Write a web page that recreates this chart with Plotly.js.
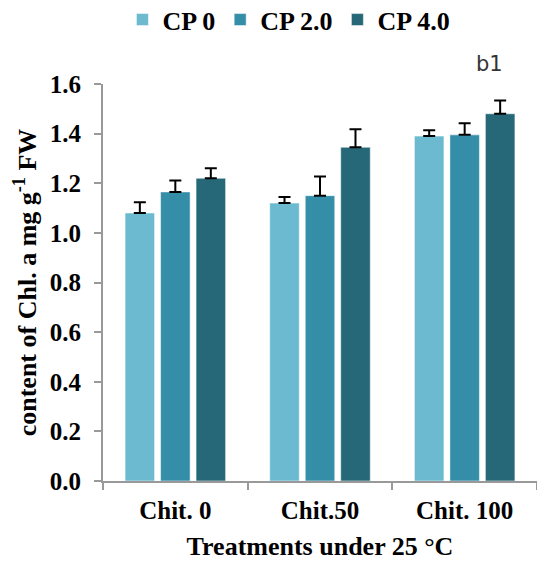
<!DOCTYPE html>
<html>
<head>
<meta charset="utf-8">
<script src="https://cdn.plot.ly/plotly-3.0.1.min.js"></script>
<style>html,body{margin:0;padding:0;background:#fff;}#chart{width:537px;height:562px;}</style>
</head>
<body>
<div id="chart"></div>
<script>
const categories = ["Chit. 0", "Chit.50", "Chit. 100"];
const seriesNames = ["CP 0", "CP 2.0", "CP 4.0"];
const cp0 = [1.08, 1.12, 1.39];
const cp2 = [1.165, 1.15, 1.395];
const cp4 = [1.22, 1.345, 1.48];
const err0 = [0.043, 0.025, 0.024];
const err2 = [0.046, 0.077, 0.047];
const err4 = [0.04, 0.073, 0.054];
const yTickVals = [0, 0.2, 0.4, 0.6, 0.8, 1.0, 1.2, 1.4, 1.6];
const yTickText = ["0.0", "0.2", "0.4", "0.6", "0.8", "1.0", "1.2", "1.4", "1.6"];
const colors = ["#6bbad0", "#358ea8", "#266878"];

const serif = "Liberation Serif, Times New Roman, serif";
const values = [cp0, cp2, cp4];
const errs = [err0, err2, err4];

const traces = seriesNames.map((name, i) => ({
  type: "bar",
  name: name,
  x: categories,
  y: values[i],
  marker: {color: colors[i], line: {color: "rgba(255,255,255,0.5)", width: 1}},
  error_y: {type: "data", symmetric: false, array: errs[i], arrayminus: errs[i].map(() => 0),
            color: "#000", thickness: 2, width: 6}
}));

const layout = {
  width: 537, height: 562,
  margin: {l: 103, r: 0, t: 84, b: 81},
  paper_bgcolor: "#fff", plot_bgcolor: "#fff",
  barmode: "group", bargap: 0.264, bargroupgap: 0.168,
  font: {family: serif, color: "#000"},
  showlegend: true,
  legend: {orientation: "h", xref: "container", yref: "container", x: 0.228, xanchor: "left", y: 0.965, yanchor: "middle",
           font: {family: serif, size: 26, weight: "bold", color: "#000"}, itemgap: 0},
  xaxis: {
    type: "category", range: [-0.5, 2.5],
    showline: true, linecolor: "#999", linewidth: 2,
    ticks: "outside", tickson: "boundaries", ticklen: 7, tickcolor: "#999", tickwidth: 2,
    ticklabelstandoff: 6,
    tickfont: {family: serif, size: 25, weight: "bold", color: "#000"},
    title: {text: "Treatments under 25 °C", font: {family: serif, size: 26, weight: "bold", color: "#000"}, standoff: 14},
    showgrid: false, zeroline: false
  },
  yaxis: {
    range: [0, 1.6], tickvals: yTickVals, ticktext: yTickText,
    showline: true, linecolor: "#999", linewidth: 2,
    ticks: "outside", ticklen: 7, tickcolor: "#999", tickwidth: 2,
    ticklabelstandoff: 8,
    tickfont: {family: serif, size: 25, weight: "bold", color: "#000"},
    title: {text: "content of Chl. a mg g<sup>-1</sup> FW", font: {family: serif, size: 26, weight: "bold", color: "#000"}, standoff: 6},
    showgrid: false, zeroline: false
  },
  annotations: [{
    text: "b1", xref: "paper", yref: "paper", x: 0.89, y: 1.05, xanchor: "center", yanchor: "middle",
    showarrow: false, font: {family: "DejaVu Sans, sans-serif", size: 21, color: "#333"}
  }]
};

Plotly.newPlot("chart", traces, layout, {displayModeBar: false, staticPlot: true});
</script>
</body>
</html>
